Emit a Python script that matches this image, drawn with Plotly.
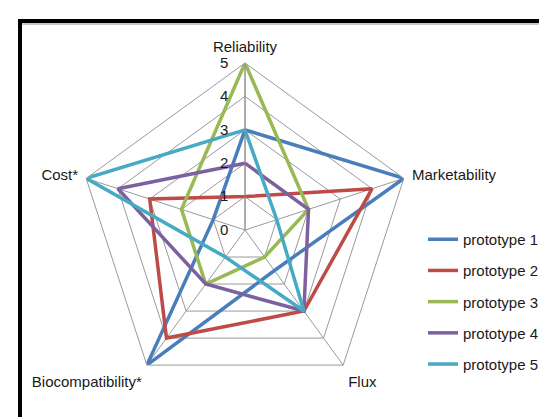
import plotly.graph_objects as go

categories = ["Reliability", "Marketability", "Flux", "Biocompatibility*", "Cost*"]
series_names = ["prototype 1", "prototype 2", "prototype 3", "prototype 4", "prototype 5"]
p1 = [3, 5, 1.5, 5, 1]
p2 = [1, 4, 3, 4, 3]
p3 = [5, 2, 1, 2, 2]
p4 = [2, 2, 3, 2, 4]
p5 = [3, 1, 3, 1, 5]
colors = ["#4A7EBB", "#BE4B48", "#98B954", "#7D60A0", "#46AAC5"]
radial_ticks = [0, 1, 2, 3, 4, 5]

W, H = 547, 417
cx, cy, R = 237, 222, 167

fig = go.Figure()
for name, vals, col in zip(series_names, [p1, p2, p3, p4, p5], colors):
    fig.add_trace(go.Scatterpolar(
        r=vals + vals[:1], theta=categories + categories[:1],
        mode="lines", name=name, legendgroup=name,
        line=dict(color=col, width=3.5), hoverinfo="skip"))

font = dict(family="Liberation Sans, Arial, sans-serif", size=15, color="#1a1a1a")

fig.update_layout(
    width=W, height=H, margin=dict(l=0, r=0, t=0, b=0),
    paper_bgcolor="white", plot_bgcolor="white", font=font,
    polar=dict(
        domain=dict(x=[(cx - R) / W, (cx + R) / W], y=[(H - cy - R) / H, (H - cy + R) / H]),
        bgcolor="white", gridshape="linear",
        radialaxis=dict(range=[0, 5], tickvals=radial_ticks, showline=True, linecolor="#8c8c8c",
                        linewidth=1, gridcolor="#9a9a9a", gridwidth=1, angle=90,
                        ticks="outside", ticklen=11, tickcolor="rgba(0,0,0,0)",
                        side="counterclockwise", tickangle=90, tickfont=font),
        angularaxis=dict(rotation=90, direction="clockwise", showline=True, linecolor="#9a9a9a",
                         linewidth=1, gridcolor="#9a9a9a", gridwidth=1,
                         ticks="outside", ticklen=5, tickcolor="rgba(0,0,0,0)", tickfont=font),
    ),
    legend=dict(x=415 / W, y=(H - 215) / H, xanchor="left", yanchor="top", font=font,
                tracegroupgap=8.7, itemwidth=30, bgcolor="rgba(0,0,0,0)"),
    shapes=[
        dict(type="rect", xref="paper", yref="paper", x0=10 / W, x1=14 / W, y0=0, y1=(H - 11) / H,
             fillcolor="black", line_width=0),
        dict(type="rect", xref="paper", yref="paper", x0=10 / W, x1=1, y0=(H - 15) / H, y1=(H - 11) / H,
             fillcolor="black", line_width=0),
        dict(type="rect", xref="paper", yref="paper", x0=14 / W, x1=1, y0=(H - 17) / H, y1=(H - 15) / H,
             fillcolor="#c8c8c8", line_width=0),
    ],
)
fig.write_html("out.html")
